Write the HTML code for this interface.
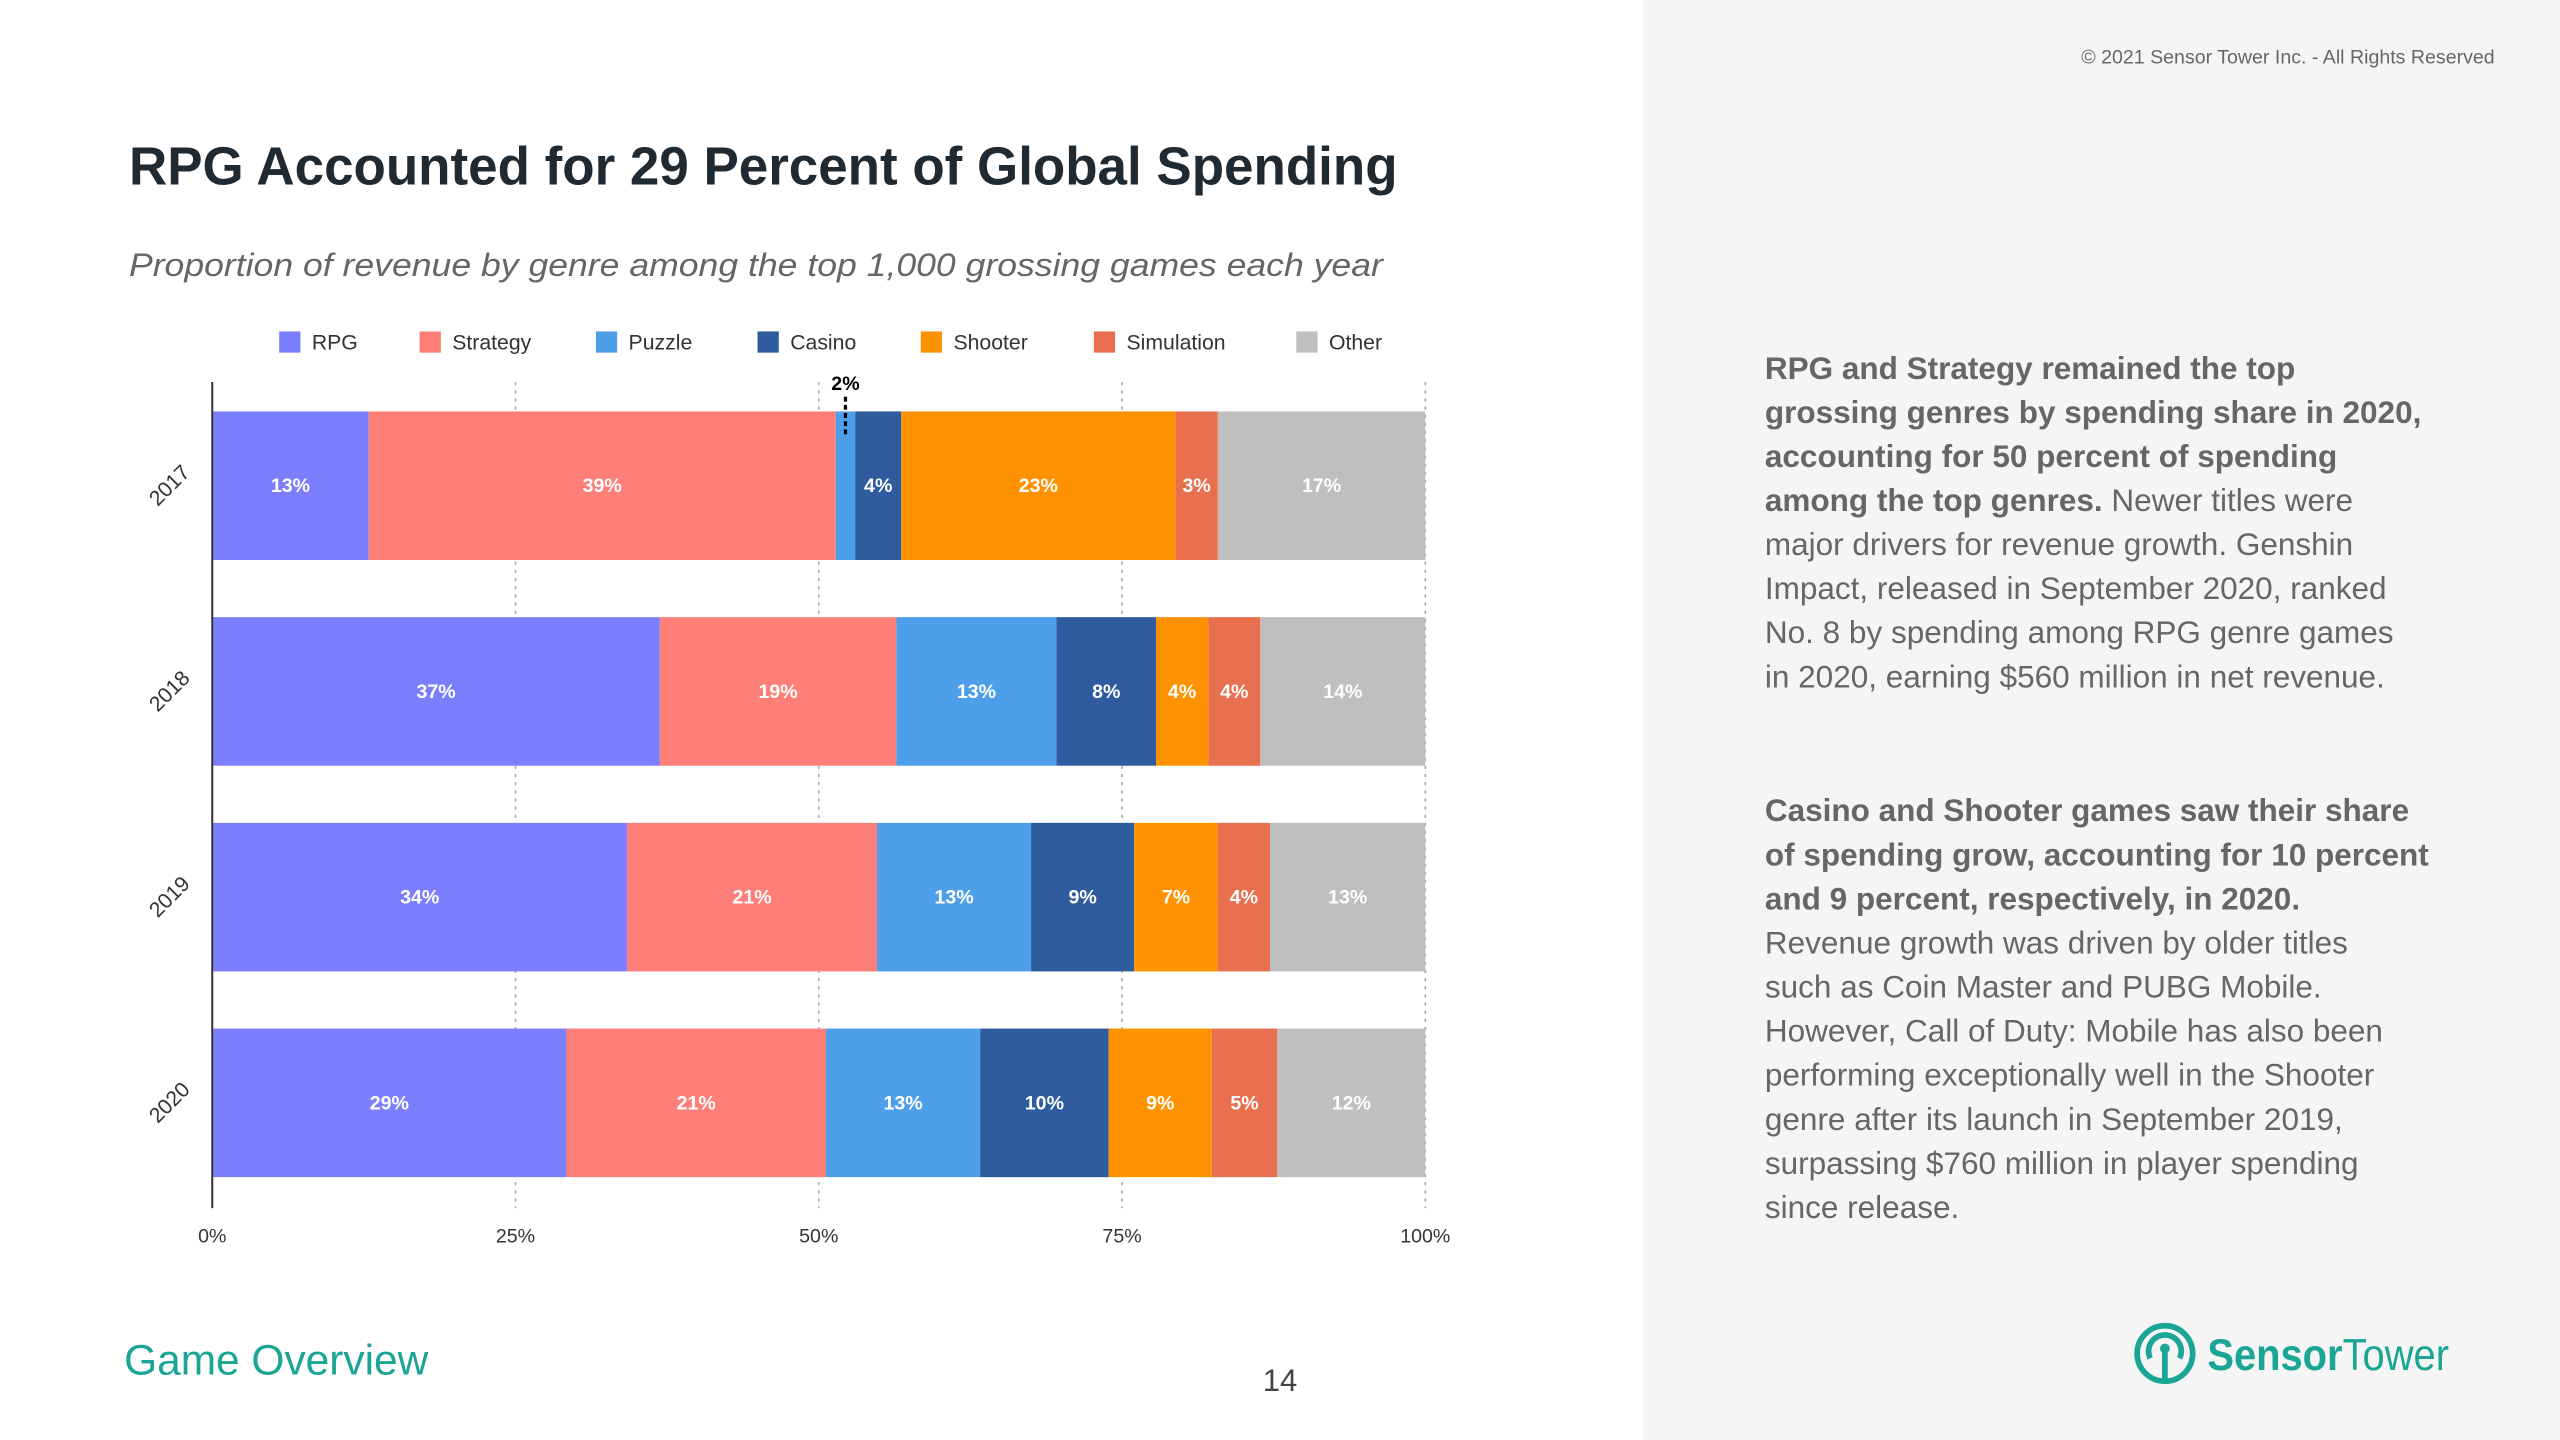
<!DOCTYPE html>
<html><head><meta charset="utf-8"><style>
html,body{margin:0;padding:0;background:#fff;}
svg{display:block;font-family:"Liberation Sans",sans-serif;}
</style></head><body>
<svg id="s" width="2560" height="1440" viewBox="0 0 1568 882" xmlns="http://www.w3.org/2000/svg">
<rect x="0" y="0" width="1568" height="882" fill="#fff"/>
<rect x="1006" y="0" width="562" height="882" fill="#f5f5f5"/>
<text x="1528" y="39" font-size="12" fill="#666" text-anchor="end">© 2021 Sensor Tower Inc. - All Rights Reserved</text>
<text x="79" y="113" font-size="33" font-weight="bold" fill="#1f2a33" textLength="777" lengthAdjust="spacingAndGlyphs">RPG Accounted for 29 Percent of Global Spending</text>
<text x="79" y="169" font-size="20" font-style="italic" fill="#666" textLength="768" lengthAdjust="spacingAndGlyphs">Proportion of revenue by genre among the top 1,000 grossing games each year</text>
<g id="legend"></g>
<g id="grid"></g>
<g id="bars"></g>
<g id="xaxis"></g>
<line x1="130" y1="234" x2="130" y2="740" stroke="#333" stroke-width="1.2"/>
<g font-size="19.3" fill="#666">
<text x="1081" y="232" font-weight="bold">RPG and Strategy remained the top</text>
<text x="1081" y="259" font-weight="bold">grossing genres by spending share in 2020,</text>
<text x="1081" y="286" font-weight="bold">accounting for 50 percent of spending</text>
<text x="1081" y="313"><tspan font-weight="bold">among the top genres.</tspan> Newer titles were</text>
<text x="1081" y="340">major drivers for revenue growth. Genshin</text>
<text x="1081" y="367">Impact, released in September 2020, ranked</text>
<text x="1081" y="394">No. 8 by spending among RPG genre games</text>
<text x="1081" y="421">in 2020, earning $560 million in net revenue.</text>
<text x="1081" y="503" font-weight="bold">Casino and Shooter games saw their share</text>
<text x="1081" y="530" font-weight="bold">of spending grow, accounting for 10 percent</text>
<text x="1081" y="557" font-weight="bold">and 9 percent, respectively,  in 2020.</text>
<text x="1081" y="584">Revenue growth was driven by older titles</text>
<text x="1081" y="611">such as Coin Master and PUBG Mobile.</text>
<text x="1081" y="638">However, Call of Duty: Mobile has also been</text>
<text x="1081" y="665">performing exceptionally well in the Shooter</text>
<text x="1081" y="692">genre after its launch in September 2019,</text>
<text x="1081" y="719">surpassing $760 million in player spending</text>
<text x="1081" y="746">since release.</text>
</g>
<text x="76" y="842" font-size="26" fill="#1aa595">Game Overview</text>
<text x="784" y="852" font-size="19" fill="#444" text-anchor="middle">14</text>
<g>
<circle cx="1326" cy="829" r="17" fill="none" stroke="#1aa595" stroke-width="3.5"/>
<path d="M1317 832 A10 10 0 1 1 1335 832" fill="none" stroke="#1aa595" stroke-width="3.5"/>
<circle cx="1326" cy="826" r="3" fill="#1aa595"/>
<line x1="1326" y1="826" x2="1326" y2="846" stroke="#1aa595" stroke-width="3.5"/>
<text x="1352" y="839" font-size="27" fill="#1aa595" textLength="148" lengthAdjust="spacingAndGlyphs"><tspan font-weight="bold">Sensor</tspan><tspan>Tower</tspan></text>
</g>
</svg>
<script>
const NS='http://www.w3.org/2000/svg';
const genres=['RPG','Strategy','Puzzle','Casino','Shooter','Simulation','Other'];
const colors=['#7b7ffd','#fe7f78','#4e9fea','#2e5c9e','#fe9200','#e8704f','#bfbfbf'];
const years=['2017','2018','2019','2020'];
const v2017=[12.9,38.5,1.6,3.8,22.6,3.5,17.1];
const v2018=[36.9,19.5,13.2,8.2,4.3,4.3,13.6];
const v2019=[34.2,20.6,12.7,8.5,6.9,4.3,12.8];
const v2020=[29.2,21.4,12.7,10.6,8.5,5.4,12.2];
const l2017=['13%','39%','2%','4%','23%','3%','17%'];
const l2018=['37%','19%','13%','8%','4%','4%','14%'];
const l2019=['34%','21%','13%','9%','7%','4%','13%'];
const l2020=['29%','21%','13%','10%','9%','5%','12%'];
const ticks=[0,25,50,75,100];
const series=[v2017,v2018,v2019,v2020];
const labels=[l2017,l2018,l2019,l2020];
const X0=130,X1=873,Y0=252,STEP=126,BH=91;
const xs=v=>X0+(X1-X0)*v/100;
const ys=i=>Y0+i*STEP;
function mk(t,a,p){const e=document.createElementNS(NS,t);for(const k in a)e.setAttribute(k,a[k]);p.appendChild(e);return e;}
const grid=document.getElementById('grid'),xa=document.getElementById('xaxis');
ticks.forEach(t=>{
  if(t>0){const l=mk('line',{x1:xs(t),x2:xs(t),y1:234,y2:740,stroke:'#aaa','stroke-width':1,'stroke-dasharray':'2,3'},grid);
  
  }
  const tx=mk('text',{x:xs(t),y:761,'font-size':12,fill:'#333','text-anchor':'middle'},xa);tx.textContent=t+'%';
  
  
});
const lg=document.getElementById('legend');
const lx=[171,257,365,464,564,670,794];
genres.forEach((g,i)=>{
  const r=mk('rect',{x:lx[i],y:203,width:13,height:13,fill:colors[i]},lg);
  
  
  const t=mk('text',{x:lx[i]+20,y:214,'font-size':13,fill:'#333'},lg);t.textContent=g;
  
  
});
const bars=document.getElementById('bars');
series.forEach((vals,i)=>{
  let acc=0;const y=ys(i);
  vals.forEach((v,j)=>{
    const a=xs(acc),b=xs(acc+v);acc+=v;
    const r=mk('rect',{x:a,y:y,width:b-a,height:BH,fill:colors[j]},bars);
    
    
    if(b-a>18){
      const t=mk('text',{x:(a+b)/2,y:y+BH/2+4,'font-size':12,'font-weight':'bold',fill:'#fff','text-anchor':'middle'},bars);
      t.textContent=labels[i][j];
      
      
    } else {
      const cx=(a+b)/2;
      const t=mk('text',{x:cx,y:239,'font-size':12,'font-weight':'bold',fill:'#000','text-anchor':'middle'},bars);
      t.textContent=labels[i][j];
      
      
      const l=mk('line',{x1:cx,x2:cx,y1:243,y2:266,stroke:'#000','stroke-width':2,'stroke-dasharray':'3,2'},bars);
      
      
    }
  });
  const cy=y+BH/2,cx=104;
  const yt=mk('text',{x:cx,y:cy+4,'font-size':13,fill:'#333','text-anchor':'middle',transform:`rotate(-45 ${cx} ${cy})`},bars);
  yt.textContent=years[i];
  
  
});
</script>
</body></html>
